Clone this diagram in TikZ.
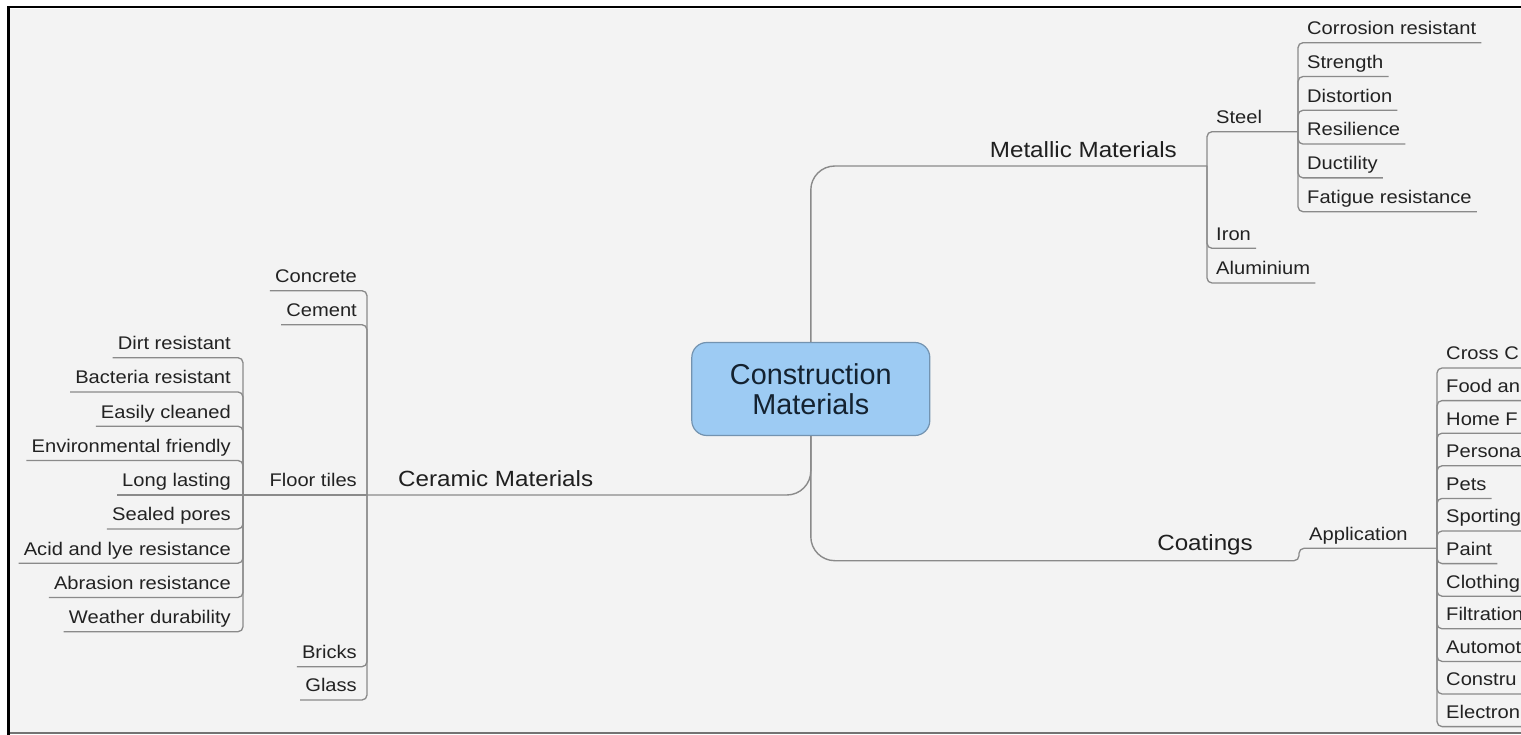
\documentclass[tikz,border=0pt]{standalone}
\usepackage{fontspec}
\setmainfont{Liberation Sans}[FakeStretch=1.1]
\newfontfamily\hubfont{Liberation Sans}
\definecolor{bg}{HTML}{F3F3F3}
\definecolor{linec}{HTML}{8A8A8A}
\definecolor{txt}{HTML}{222222}
\definecolor{hubfill}{HTML}{9DCBF3}
\definecolor{hubdraw}{HTML}{7393B0}
\definecolor{hubtxt}{HTML}{142230}
\begin{document}
\begin{tikzpicture}[x=1pt,y=-1pt,
  link/.style={draw=linec, line width=1.3pt, rounded corners=5pt},
  trunk/.style={draw=linec, line width=1.4pt, rounded corners=24pt},
  lbl/.style={inner xsep=5pt, inner ysep=8pt, text depth=0pt, text=txt, font=\fontsize{18.3}{22}\selectfont},
  big/.style={lbl, text=black!88, font=\fontsize{22}{26}\selectfont},
  lw/.style={lbl, anchor=south west},
  le/.style={lbl, anchor=south east},
  hub/.style={draw=hubdraw, fill=hubfill, line width=1.2pt, rounded corners=15pt,
    minimum width=238pt, minimum height=93pt, align=center, inner sep=0pt,
    text=hubtxt, font=\hubfont\fontsize{28.8}{30}\selectfont}
]
\useasboundingbox (0,0) rectangle (1521,735);
\clip (0,0) rectangle (1521,735);
% background and frame
\fill[white] (0,0) rectangle (1521,735);
\fill[bg] (10,9) rectangle (1521,733);
\draw[black!55, line width=1.5pt] (10,733) -- (1521,733);
\draw[black, line width=2.6pt] (8.7,735) -- (8.7,7) -- (1521,7);

% hub
\node[hub] (cm) at (810.8,389) {Construction\\Materials};

% level 1
\node[big, anchor=south east] (met) at (1182,166) {Metallic Materials};
\node[big, anchor=south west] (cer) at (393,495) {Ceramic Materials};
\node[big, anchor=south east] (coa) at (1258,559) {Coatings};

% junctions
\coordinate (metJ) at (1207,166);
\coordinate (steelJ) at (1298,131.7);
\coordinate (cerJ) at (367,495);
\coordinate (ftJ) at (243,495);
\coordinate (coaJ0) at (1288,560.7);
\coordinate (coaJ) at (1299,560.7);
\coordinate (appJ) at (1437,548.3);

% trunk connectors
\draw[trunk] (cm.north) |- (metJ);
\draw[trunk] (cm.south) |- (cerJ);
\draw[trunk] (cm.south) |- (coaJ0);
\draw[link] (coaJ0) -- (coaJ) |- (appJ);

% metallic branch
\node[lw] (steel) at (1211,131.7) {Steel};
\node[lw] (iron) at (1211,248.3) {Iron};
\node[lw] (alu) at (1211,283) {Aluminium};
\draw[link] (metJ) |- (steelJ);
\draw[link] (metJ) |- (iron.south east);
\draw[link] (metJ) |- (alu.south east);

\node[lw] (s0) at (1302,42.7) {Corrosion resistant};
\node[lw] (s1) at (1302,76.5) {Strength};
\node[lw] (s2) at (1302,110.3) {Distortion};
\node[lw] (s3) at (1302,144.1) {Resilience};
\node[lw] (s4) at (1302,177.9) {Ductility};
\node[lw] (s5) at (1302,211.7) {Fatigue resistance};
\foreach \i in {0,...,5} {\draw[link] (steelJ) |- (s\i.south east);}

% ceramic branch
\node[le] (concrete) at (362,290.7) {Concrete};
\node[le] (cement) at (362,324.7) {Cement};
\node[le] (ft) at (362,495) {Floor tiles};
\node[le] (bricks) at (362,666.7) {Bricks};
\node[le] (glass) at (362,700) {Glass};
\draw[link] (cerJ) |- (concrete.south west);
\draw[link] (cerJ) |- (cement.south west);
\draw[link] (cerJ) -- (ftJ);
\draw[link] (cerJ) |- (bricks.south west);
\draw[link] (cerJ) |- (glass.south west);

\node[le] (f0) at (236,357.7) {Dirt resistant};
\node[le] (f1) at (236,391.95) {Bacteria resistant};
\node[le] (f2) at (236,426.2) {Easily cleaned};
\node[le] (f3) at (236,460.45) {Environmental friendly};
\node[le] (f4) at (236,495) {Long lasting};
\node[le] (f5) at (236,528.95) {Sealed pores};
\node[le] (f6) at (236,563.2) {Acid and lye resistance};
\node[le] (f7) at (236,597.45) {Abrasion resistance};
\node[le] (f8) at (236,631.7) {Weather durability};
\foreach \i in {0,1,2,3,5,6,7,8} {\draw[link] (ftJ) |- (f\i.south west);}
\draw[link] (ftJ) -- (f4.south west);

% coatings branch
\node[lw] (app) at (1304,548.3) {Application};
\node[lw] (a0) at (1441,368) {Cross C};
\node[lw] (a1) at (1441,400.6) {Food an};
\node[lw] (a2) at (1441,433.2) {Home F};
\node[lw] (a3) at (1441,465.8) {Persona};
\node[lw] (a4) at (1441,498.4) {Pets};
\node[lw] (a5) at (1441,531) {Sporting};
\node[lw] (a6) at (1441,563.6) {Paint};
\node[lw] (a7) at (1441,596.2) {Clothing};
\node[lw] (a8) at (1441,628.8) {Filtration};
\node[lw] (a9) at (1441,661.4) {Automot};
\node[lw] (a10) at (1441,694) {Constru};
\node[lw] (a11) at (1441,726.6) {Electron};
\foreach \i in {0,...,11} {\draw[link] (appJ) |- (a\i.south east);}
\draw[link] (a0.south east) -- ++(40,0);
\draw[link] (a10.south east) -- ++(40,0);
\end{tikzpicture}
\end{document}
